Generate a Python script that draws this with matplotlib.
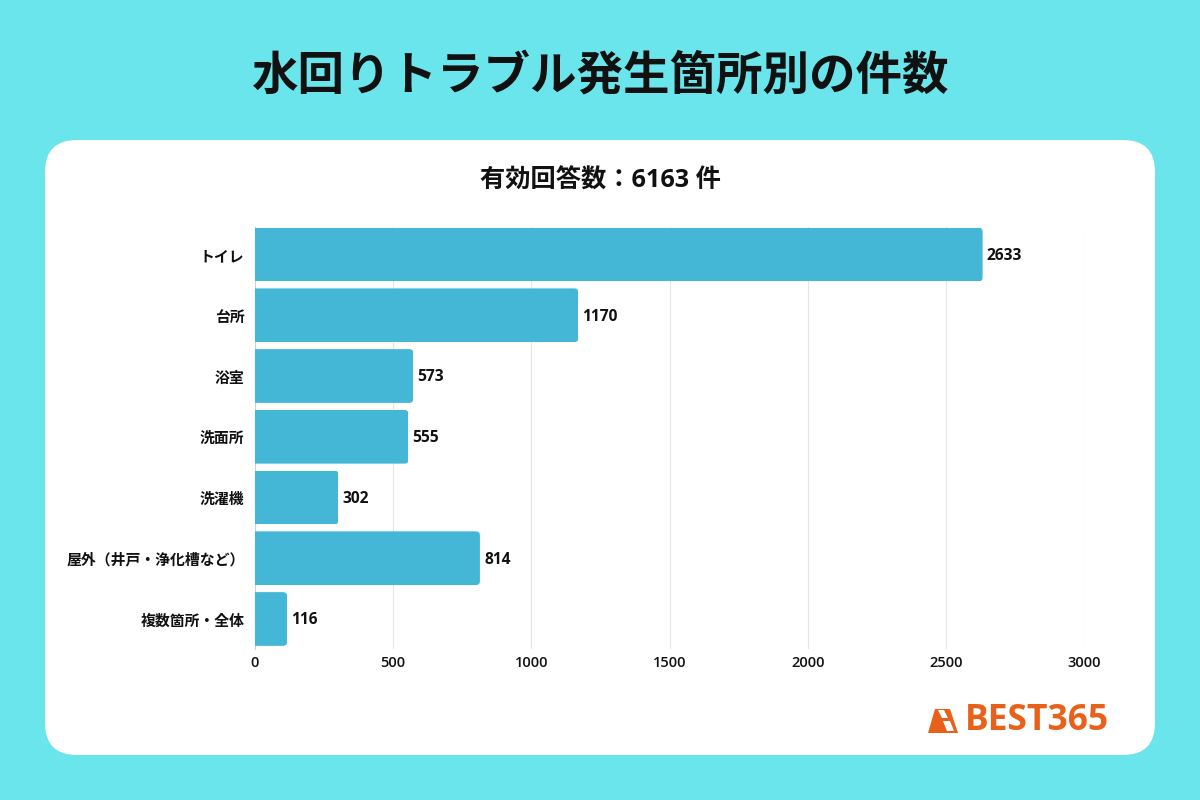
import matplotlib
matplotlib.use('Agg')
import matplotlib.pyplot as plt
from matplotlib.patches import FancyBboxPatch, Polygon

plt.rcParams['font.family'] = ['Noto Sans CJK JP', 'DejaVu Sans']

# データ
categories = ['トイレ', '台所', '浴室', '洗面所', '洗濯機', '屋外（井戸・浄化槽など）', '複数箇所・全体']
counts = [2633, 1170, 573, 555, 302, 814, 116]
x_ticks = [0, 500, 1000, 1500, 2000, 2500, 3000]

title = '水回りトラブル発生箇所別の件数'
subtitle = '有効回答数：6163 件'

W, H = 1200, 800
BG = '#6BE5EC'
BAR = '#44B7D6'
ORANGE = '#E8611A'
TEXT = '#111111'
LATIN = ['Open Sans', 'Noto Sans CJK JP']

fig = plt.figure(figsize=(W / 100, H / 100), dpi=100, facecolor=BG)

# 背景のパネルとタイトル (ピクセル座標)
bg = fig.add_axes([0, 0, 1, 1], zorder=0)
bg.set_xlim(0, W)
bg.set_ylim(H, 0)
bg.axis('off')
bg.add_patch(FancyBboxPatch((45, 140), 1110, 615, boxstyle='round,pad=0,rounding_size=32',
                            facecolor='white', edgecolor='none'))
bg.text(600, 75, title, fontsize=33.5, fontweight='bold', color=TEXT, ha='center', va='center')
bg.text(600, 181, subtitle, fontsize=18.2, fontweight='bold', color=TEXT, ha='center', va='center',
        family=LATIN)

# ロゴ
bg.add_patch(Polygon([(928, 733), (935, 709), (950, 709), (958, 733)], closed=True, facecolor=ORANGE, edgecolor='none'))
bg.add_patch(Polygon([(938, 710), (944, 710), (948, 718), (942, 718)], closed=True, facecolor='white', edgecolor='none'))
bg.add_patch(Polygon([(943, 721), (950, 721), (954, 731), (947, 731)], closed=True, facecolor='white', edgecolor='none'))
bg.text(1037, 720.5, 'BEST365', fontsize=25.5, fontweight='bold', color=ORANGE, ha='center', va='center',
        family=['Open Sans', 'DejaVu Sans'])

# グラフ本体
left, right, top, bottom = 255, 1084, 227, 649
ax = fig.add_axes([left / W, 1 - bottom / H, (right - left) / W, (bottom - top) / H], zorder=1)
ax.patch.set_alpha(0)
ypos = list(range(len(categories)))
bars = ax.barh(ypos, counts, height=0.885, color=BAR, zorder=3)
ax.set_xlim(0, 3000)
ax.set_ylim(6.494, -0.453)
ax.set_xticks(x_ticks)
ax.set_yticks(ypos)
ax.set_yticklabels(categories, fontsize=10.7, fontweight='bold', color=TEXT)
ax.tick_params(axis='both', length=0)
ax.tick_params(axis='y', pad=7.5)
ax.tick_params(axis='x', pad=5, labelsize=10.5, labelcolor=TEXT)
for lbl in ax.get_xticklabels():
    lbl.set_family(LATIN)
    lbl.set_fontweight('semibold')
ax.grid(axis='x', color='#E4E3EA', linewidth=0.8, zorder=0)
ax.set_axisbelow(True)
for s in ['top', 'right', 'bottom']:
    ax.spines[s].set_visible(False)
ax.spines['left'].set_color('#D0D0D0')
ax.spines['left'].set_linewidth(0.8)
ax.spines['left'].set_zorder(2)

# 右端だけ角丸にする
px_x = 3000 / (right - left)
px_y = (6.494 + 0.453) / (bottom - top)
for b, v in zip(bars, counts):
    clip = FancyBboxPatch((-100, b.get_y()), v + 100, b.get_height(),
                          boxstyle=f'round,pad=0,rounding_size={4 * px_x}',
                          mutation_aspect=px_y / px_x, transform=ax.transData)
    b.set_clip_path(clip)

for y, v in zip(ypos, counts):
    ax.annotate(str(v), (v, y), xytext=(3, -1), textcoords='offset points', fontsize=11.2,
                fontweight='bold', color=TEXT, va='center', ha='left', zorder=4, family=LATIN)

fig.savefig('out.png', dpi=100, facecolor=BG)
